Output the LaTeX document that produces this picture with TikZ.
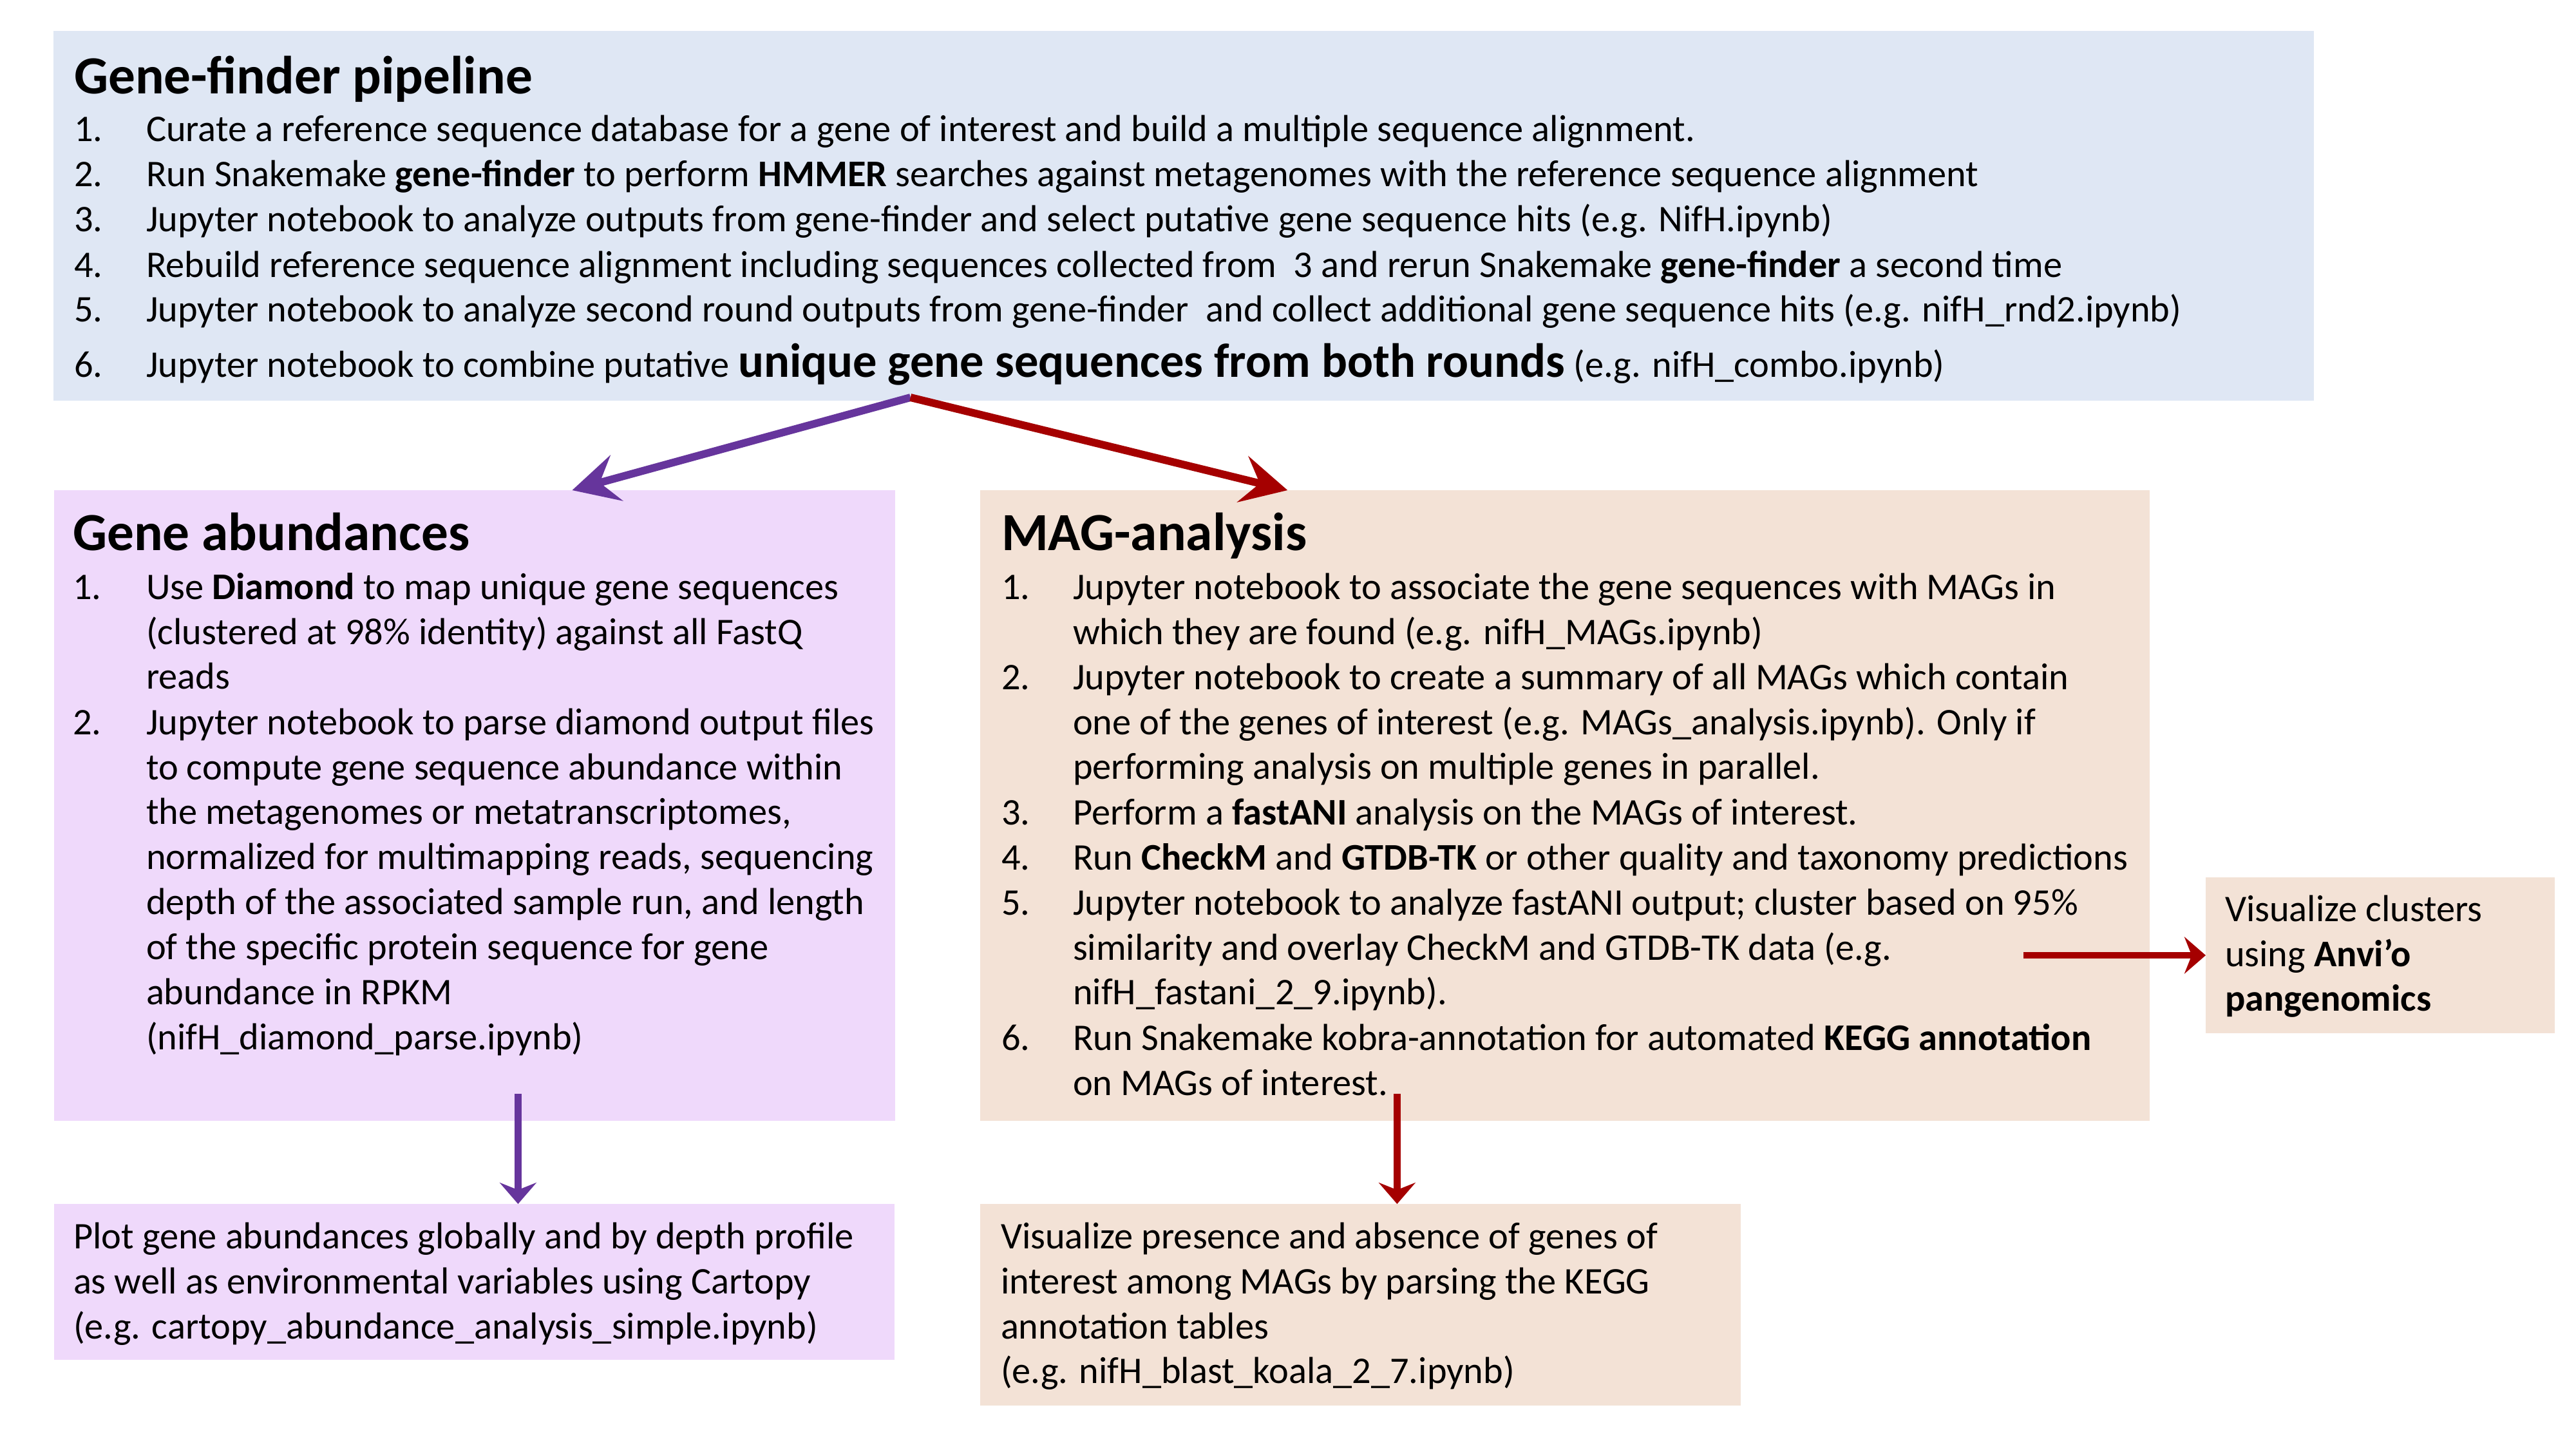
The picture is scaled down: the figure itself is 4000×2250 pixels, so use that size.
\documentclass[tikz,border=0pt]{standalone}
\usepackage{fontspec}
\setmainfont{Carlito}
\usetikzlibrary{arrows.meta,fit}
\definecolor{boxblue}{HTML}{DFE7F4}
\definecolor{boxpurple}{HTML}{EFD9FB}
\definecolor{boxtan}{HTML}{F3E2D6}
\definecolor{arrpurple}{HTML}{66359C}
\definecolor{arrred}{HTML}{A50000}
\begin{document}
\begin{tikzpicture}[x=0.01cm,y=-0.01cm,
  every node/.style={inner sep=0pt, outer sep=0pt},
  panel/.style={draw=none, inner sep=0pt, rectangle},
  txt/.style={anchor=base west, font=\fontsize{16.6}{19.9}\selectfont},
  ttl/.style={anchor=base west, font=\fontsize{23.7}{28}\selectfont\bfseries},
  bigarrow/.style={line width=3.4pt, -{Stealth[length=20.3pt,width=20.8pt,inset=7.7pt]}},
  smallarrow/.style={line width=3.1pt, -{Stealth[length=9.4pt,width=16.2pt,inset=3.2pt]}}
]
\useasboundingbox (0,0) rectangle (4000,2250);

% panels
\node[panel, fill=boxblue, fit={(83,48) (3593,622)}] (gf) {};
\node[panel, fill=boxpurple, fit={(84,761) (1390,1740)}] (ga) {};
\node[panel, fill=boxtan, fit={(1522,761) (3338,1740)}] (mag) {};
\node[panel, fill=boxtan, fit={(3425,1362) (3967,1604)}] (anvio) {};
\node[panel, fill=boxpurple, fit={(84,1869) (1389,2111)}] (gaout) {};
\node[panel, fill=boxtan, fit={(1522,1869) (2703,2182)}] (magout) {};

% Gene-finder pipeline
\node[ttl] (gft) at (115,145) {Gene-finder pipeline};
\node[txt] (gf1n) at (115,219) {1.};
\node[txt] (gf1) at (227,219) {Curate a reference sequence database for a gene of interest and build a multiple sequence alignment.};
\node[txt] (gf2n) at (115,289) {2.};
\node[txt] (gf2) at (227,289) {Run Snakemake \textbf{gene-finder} to perform \textbf{HMMER} searches against metagenomes with the reference sequence alignment};
\node[txt] (gf3n) at (115,359) {3.};
\node[txt] (gf3) at (227,359) {Jupyter notebook to analyze outputs from gene-finder and select putative gene sequence hits (e.g. NifH.ipynb)};
\node[txt] (gf4n) at (115,430) {4.};
\node[txt] (gf4) at (227,430) {Rebuild reference sequence alignment including sequences collected from\ \ 3 and rerun Snakemake \textbf{gene-finder} a second time};
\node[txt] (gf5n) at (115,499) {5.};
\node[txt] (gf5) at (227,499) {Jupyter notebook to analyze second round outputs from gene-finder\ \ and collect additional gene sequence hits (e.g. nifH\_rnd2.ipynb)};
\node[txt] (gf6n) at (115,585) {6.};
\node[txt] (gf6) at (227,585) {Jupyter notebook to combine putative {\fontsize{21.2}{25}\selectfont\bfseries unique gene sequences from both rounds} (e.g. nifH\_combo.ipynb)};

% Gene abundances
\node[ttl] (gat) at (113,854) {Gene abundances};
\node[txt] (ga1n) at (113,930) {1.};
\node[txt] (ga1) at (227,930) {\begin{tabular}[t]{@{}l@{}}Use \textbf{Diamond} to map unique gene sequences\\(clustered at 98\% identity) against all FastQ\\reads\end{tabular}};
\node[txt] (ga2n) at (113,1140) {2.};
\node[txt] (ga2) at (227,1140) {\begin{tabular}[t]{@{}l@{}}Jupyter notebook to parse diamond output files\\to compute gene sequence abundance within\\the metagenomes or metatranscriptomes,\\normalized for multimapping reads, sequencing\\depth of the associated sample run, and length\\of the specific protein sequence for gene\\abundance in RPKM\\(nifH\_diamond\_parse.ipynb)\end{tabular}};

% MAG-analysis
\node[ttl] (magt) at (1555,854) {MAG-analysis};
\node[txt] (mag1n) at (1555,930) {1.};
\node[txt] (mag1) at (1666,930) {\begin{tabular}[t]{@{}l@{}}Jupyter notebook to associate the gene sequences with MAGs in\\which they are found (e.g. nifH\_MAGs.ipynb)\end{tabular}};
\node[txt] (mag2n) at (1555,1070) {2.};
\node[txt] (mag2) at (1666,1070) {\begin{tabular}[t]{@{}l@{}}Jupyter notebook to create a summary of all MAGs which contain\\one of the genes of interest (e.g. MAGs\_analysis.ipynb). Only if\\performing analysis on multiple genes in parallel.\end{tabular}};
\node[txt] (mag3n) at (1555,1280) {3.};
\node[txt] (mag3) at (1666,1280) {Perform a \textbf{fastANI} analysis on the MAGs of interest.};
\node[txt] (mag4n) at (1555,1350) {4.};
\node[txt] (mag4) at (1666,1350) {Run \textbf{CheckM} and \textbf{GTDB-TK} or other quality and taxonomy predictions};
\node[txt] (mag5n) at (1555,1420) {5.};
\node[txt] (mag5) at (1666,1420) {\begin{tabular}[t]{@{}l@{}}Jupyter notebook to analyze fastANI output; cluster based on 95\%\\similarity and overlay CheckM and GTDB-TK data (e.g.\\nifH\_fastani\_2\_9.ipynb).\end{tabular}};
\node[txt] (mag6n) at (1555,1630) {6.};
\node[txt] (mag6) at (1666,1630) {\begin{tabular}[t]{@{}l@{}}Run Snakemake kobra-annotation for automated \textbf{KEGG annotation}\\on MAGs of interest.\end{tabular}};

% side and bottom boxes
\node[txt] (anviot) at (3455,1430) {\begin{tabular}[t]{@{}l@{}}Visualize clusters\\using \textbf{Anvi’o}\\\textbf{pangenomics}\end{tabular}};
\node[txt] (gaoutt) at (114,1938) {\begin{tabular}[t]{@{}l@{}}Plot gene abundances globally and by depth profile\\as well as environmental variables using Cartopy\\(e.g. cartopy\_abundance\_analysis\_simple.ipynb)\end{tabular}};
\node[txt] (magoutt) at (1554,1938) {\begin{tabular}[t]{@{}l@{}}Visualize presence and absence of genes of\\interest among MAGs by parsing the KEGG\\annotation tables\\(e.g. nifH\_blast\_koala\_2\_7.ipynb)\end{tabular}};

% connectors
\coordinate (apex) at ([xshift=13.30cm,yshift=0.05cm]gf.south west);
\draw[bigarrow, arrpurple] (apex) -- ([xshift=8.04cm]ga.north west);
\draw[bigarrow, arrred] (apex) -- ([xshift=4.77cm]mag.north west);
\draw[smallarrow, arrpurple] ([xshift=7.20cm,yshift=0.42cm]ga.south west) -- ([xshift=7.20cm]gaout.north west);
\draw[smallarrow, arrred] ([xshift=6.47cm,yshift=0.42cm]mag.south west) -- ([xshift=6.47cm]magout.north west);
\draw[smallarrow, arrred] ([xshift=-2.83cm]anvio.west) -- (anvio.west);
\end{tikzpicture}
\end{document}
